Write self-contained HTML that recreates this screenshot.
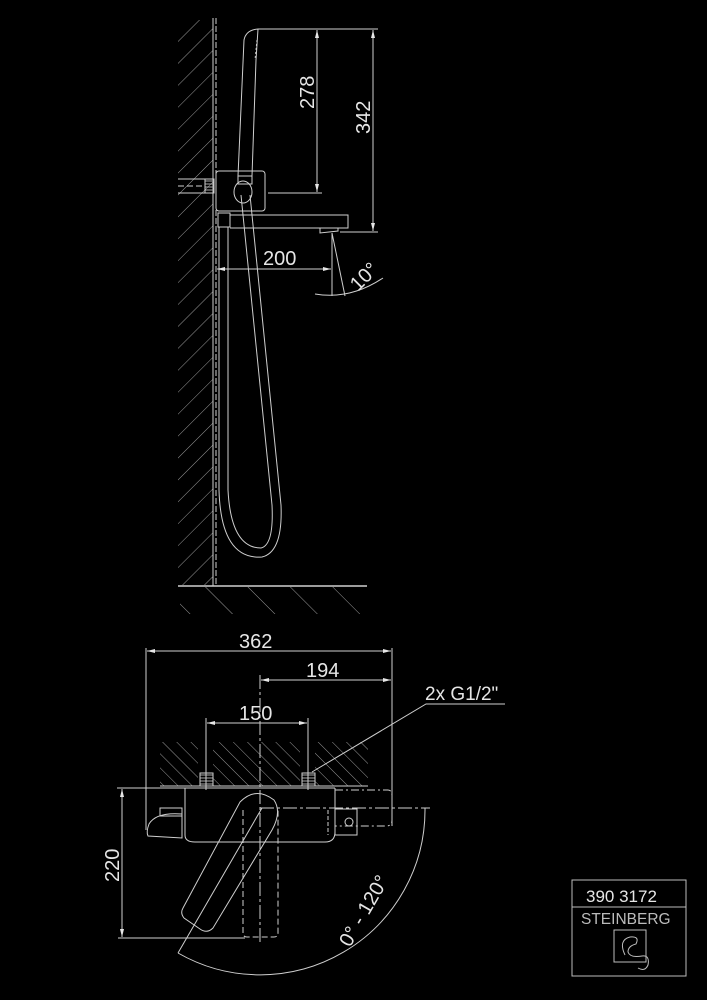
<!DOCTYPE html>
<html><head><meta charset="utf-8"><style>
html,body{margin:0;padding:0;background:#000;}
svg{display:block}
text{font-family:"Liberation Sans",sans-serif;fill:#e6e6e6}
</style></head><body>
<svg width="707" height="1000" viewBox="0 0 707 1000" xmlns="http://www.w3.org/2000/svg">
<defs>
<pattern id="h1" width="15.5" height="15.5" patternUnits="userSpaceOnUse" patternTransform="rotate(45)">
<line x1="0" y1="0" x2="0" y2="15.5" stroke="#9a9a9a" stroke-width="1"/></pattern>
<pattern id="h2" width="10" height="10" patternUnits="userSpaceOnUse" patternTransform="rotate(-45)">
<line x1="0" y1="0" x2="0" y2="10" stroke="#9a9a9a" stroke-width="1"/></pattern>
<pattern id="h3" width="30" height="30" patternUnits="userSpaceOnUse" patternTransform="rotate(-45)">
<line x1="0" y1="0" x2="0" y2="30" stroke="#9a9a9a" stroke-width="1"/></pattern>
<pattern id="thr" width="3" height="3" patternUnits="userSpaceOnUse">
<line x1="0" y1="1" x2="3" y2="1" stroke="#aaa" stroke-width="1"/></pattern>
</defs>
<g fill="none" stroke="#cfcfcf" stroke-width="1">
<rect x="178" y="20" width="35" height="565" fill="url(#h1)" stroke="none"/>
<line x1="213" y1="18" x2="213" y2="586"/>
<line x1="216" y1="18" x2="216" y2="586" stroke-dasharray="6 2"/>
<line x1="178" y1="586" x2="367" y2="586" stroke-width="1.5"/>
<rect x="180" y="587" width="187" height="27" fill="url(#h3)" stroke="none"/>
<line x1="178" y1="179" x2="213" y2="179"/><line x1="178" y1="193" x2="213" y2="193"/>
<line x1="178" y1="186" x2="205" y2="186" stroke-dasharray="6 3"/>
<rect x="205" y="179" width="9" height="14" fill="url(#thr)"/>
<rect x="216" y="171" width="49" height="40" rx="3"/>
<ellipse cx="243" cy="192" rx="9" ry="11"/>
<path d="M258 29 Q246 30 244 40 L238 176 L252 176 L256 60 L258 29"/>
<line x1="257" y1="40" x2="255" y2="60" stroke-dasharray="2 2"/>
<rect x="238" y="176" width="14" height="8"/>
<rect x="218" y="213" width="12" height="14"/>
<path d="M230 215 L348 215 L348 228 L230 228"/>
<path d="M320 228 L320 233 L338 231 L338 228"/>
<path d="M219 227 L219 490 Q221 560 262 557 Q283 552 281 505 L250 195"/>
<path d="M228 227 L228 490 Q231 548 261 548 Q274 545 272 505 L241 195"/>
<line x1="258" y1="29" x2="378" y2="29"/>
<line x1="268" y1="193" x2="322" y2="193"/>
<line x1="340" y1="232" x2="378" y2="232"/>
<line x1="317" y1="30" x2="317" y2="192"/>
<line x1="373" y1="30" x2="373" y2="231"/>
<line x1="217" y1="269" x2="331" y2="269"/>
<line x1="332" y1="233" x2="332" y2="296"/>
<line x1="332" y1="233" x2="345" y2="296"/>
<path d="M315 294 Q350 300 383 278"/>
</g>
<g fill="#e6e6e6">
<path d="M317 30 l-2 8 h4z"/><path d="M317 192 l-2 -8 h4z"/>
<path d="M373 30 l-2 8 h4z"/><path d="M373 231 l-2 -8 h4z"/>
<path d="M217 269 l8 -2 v4z"/><path d="M331 269 l-8 -2 v4z"/>
</g>
<text x="0" y="0" font-size="20" transform="translate(314,109) rotate(-90)">278</text>
<text x="0" y="0" font-size="20" transform="translate(370,134) rotate(-90)">342</text>
<text x="263" y="265" font-size="20">200</text>
<text x="0" y="0" font-size="20" transform="translate(358,292) rotate(-45)">10°</text>

<g fill="none" stroke="#cfcfcf" stroke-width="1">
<rect x="160" y="742" width="208" height="44" fill="url(#h2)" stroke="none"/>
<rect x="198" y="742" width="15" height="44" fill="#000" stroke="none"/>
<rect x="300" y="742" width="15" height="44" fill="#000" stroke="none"/>
<line x1="160" y1="786" x2="368" y2="786"/>
<rect x="200" y="773" width="13" height="13" fill="url(#thr)"/>
<rect x="302" y="773" width="13" height="13" fill="url(#thr)"/>
<line x1="146" y1="648" x2="146" y2="830"/>
<line x1="392" y1="648" x2="392" y2="826"/>
<line x1="147" y1="651" x2="391" y2="651"/>
<line x1="261" y1="680" x2="391" y2="680"/>
<line x1="260" y1="675" x2="260" y2="945" stroke-dasharray="14 3 3 3"/>
<line x1="207" y1="723" x2="307" y2="723"/>
<line x1="206" y1="718" x2="206" y2="790"/>
<line x1="308" y1="718" x2="308" y2="790"/>
<path d="M117 788 L335 788"/>
<path d="M185 788 L185 835 Q185 842 195 842 L325 842 Q335 842 335 832 L335 788"/>
<path d="M335 790 L388 790 Q392 790 392 796 L392 820 Q392 826 386 826 L335 826" stroke-dasharray="8 3 2 3"/>
<path d="M260 808 L430 808" stroke-dasharray="14 3 3 3"/>
<rect x="335" y="809" width="22" height="26"/>
<circle cx="349" cy="822" r="4"/>
<line x1="328" y1="810" x2="328" y2="835" stroke-dasharray="4 2"/>
<rect x="160" y="808" width="22" height="8"/>
<path d="M182 814 Q156 812 149 824 Q146 832 148 836 L182 838 Z"/>
<path d="M243 810 L243 933 Q243 937 247 937 L274 937 Q278 937 278 933 L278 810" stroke-dasharray="6 3"/>
<path d="M240 802 Q256 786 274 800 Q282 812 272 830 L213 928 Q207 934 200 929 L184 918 Q180 913 183 908 Z"/>
<line x1="178" y1="953" x2="262" y2="808"/>
<path d="M178 953 A165 165 0 0 0 425 808"/>
<line x1="118" y1="938" x2="245" y2="938"/>
<line x1="122" y1="789" x2="122" y2="937"/>
<polyline points="312,772 426,704 505,704"/>
</g>
<g fill="#e6e6e6">
<path d="M147 651 l8 -2 v4z"/><path d="M391 651 l-8 -2 v4z"/>
<path d="M261 680 l8 -2 v4z"/><path d="M391 680 l-8 -2 v4z"/>
<path d="M207 723 l8 -2 v4z"/><path d="M307 723 l-8 -2 v4z"/>
<path d="M122 789 l-2 8 h4z"/><path d="M122 937 l-2 -8 h4z"/>
</g>
<text x="239" y="648" font-size="20">362</text>
<text x="306" y="677" font-size="20">194</text>
<text x="239" y="720" font-size="20">150</text>
<text x="425" y="700" font-size="19">2x G1/2"</text>
<text x="0" y="0" font-size="20" transform="translate(119,882) rotate(-90)">220</text>
<text x="0" y="0" font-size="20" transform="translate(350,948) rotate(-60)">0° - 120°</text>
<g fill="none" stroke="#bdbdbd" stroke-width="1">
<rect x="572" y="880" width="114" height="96"/>
<line x1="572" y1="907" x2="686" y2="907"/>
<rect x="614" y="930" width="32" height="32"/>
<path d="M625 955 Q618 940 630 937 Q640 936 636 944 Q628 946 628 952 Q630 958 642 956 Q650 955 648 965 Q645 972 638 968"/>
</g>
<text x="586" y="902" font-size="17" fill="#fff">390 3172</text>
<text x="581" y="924" font-size="15.5" style="fill:#bbb">STEINBERG</text>
</svg>
</body></html>
